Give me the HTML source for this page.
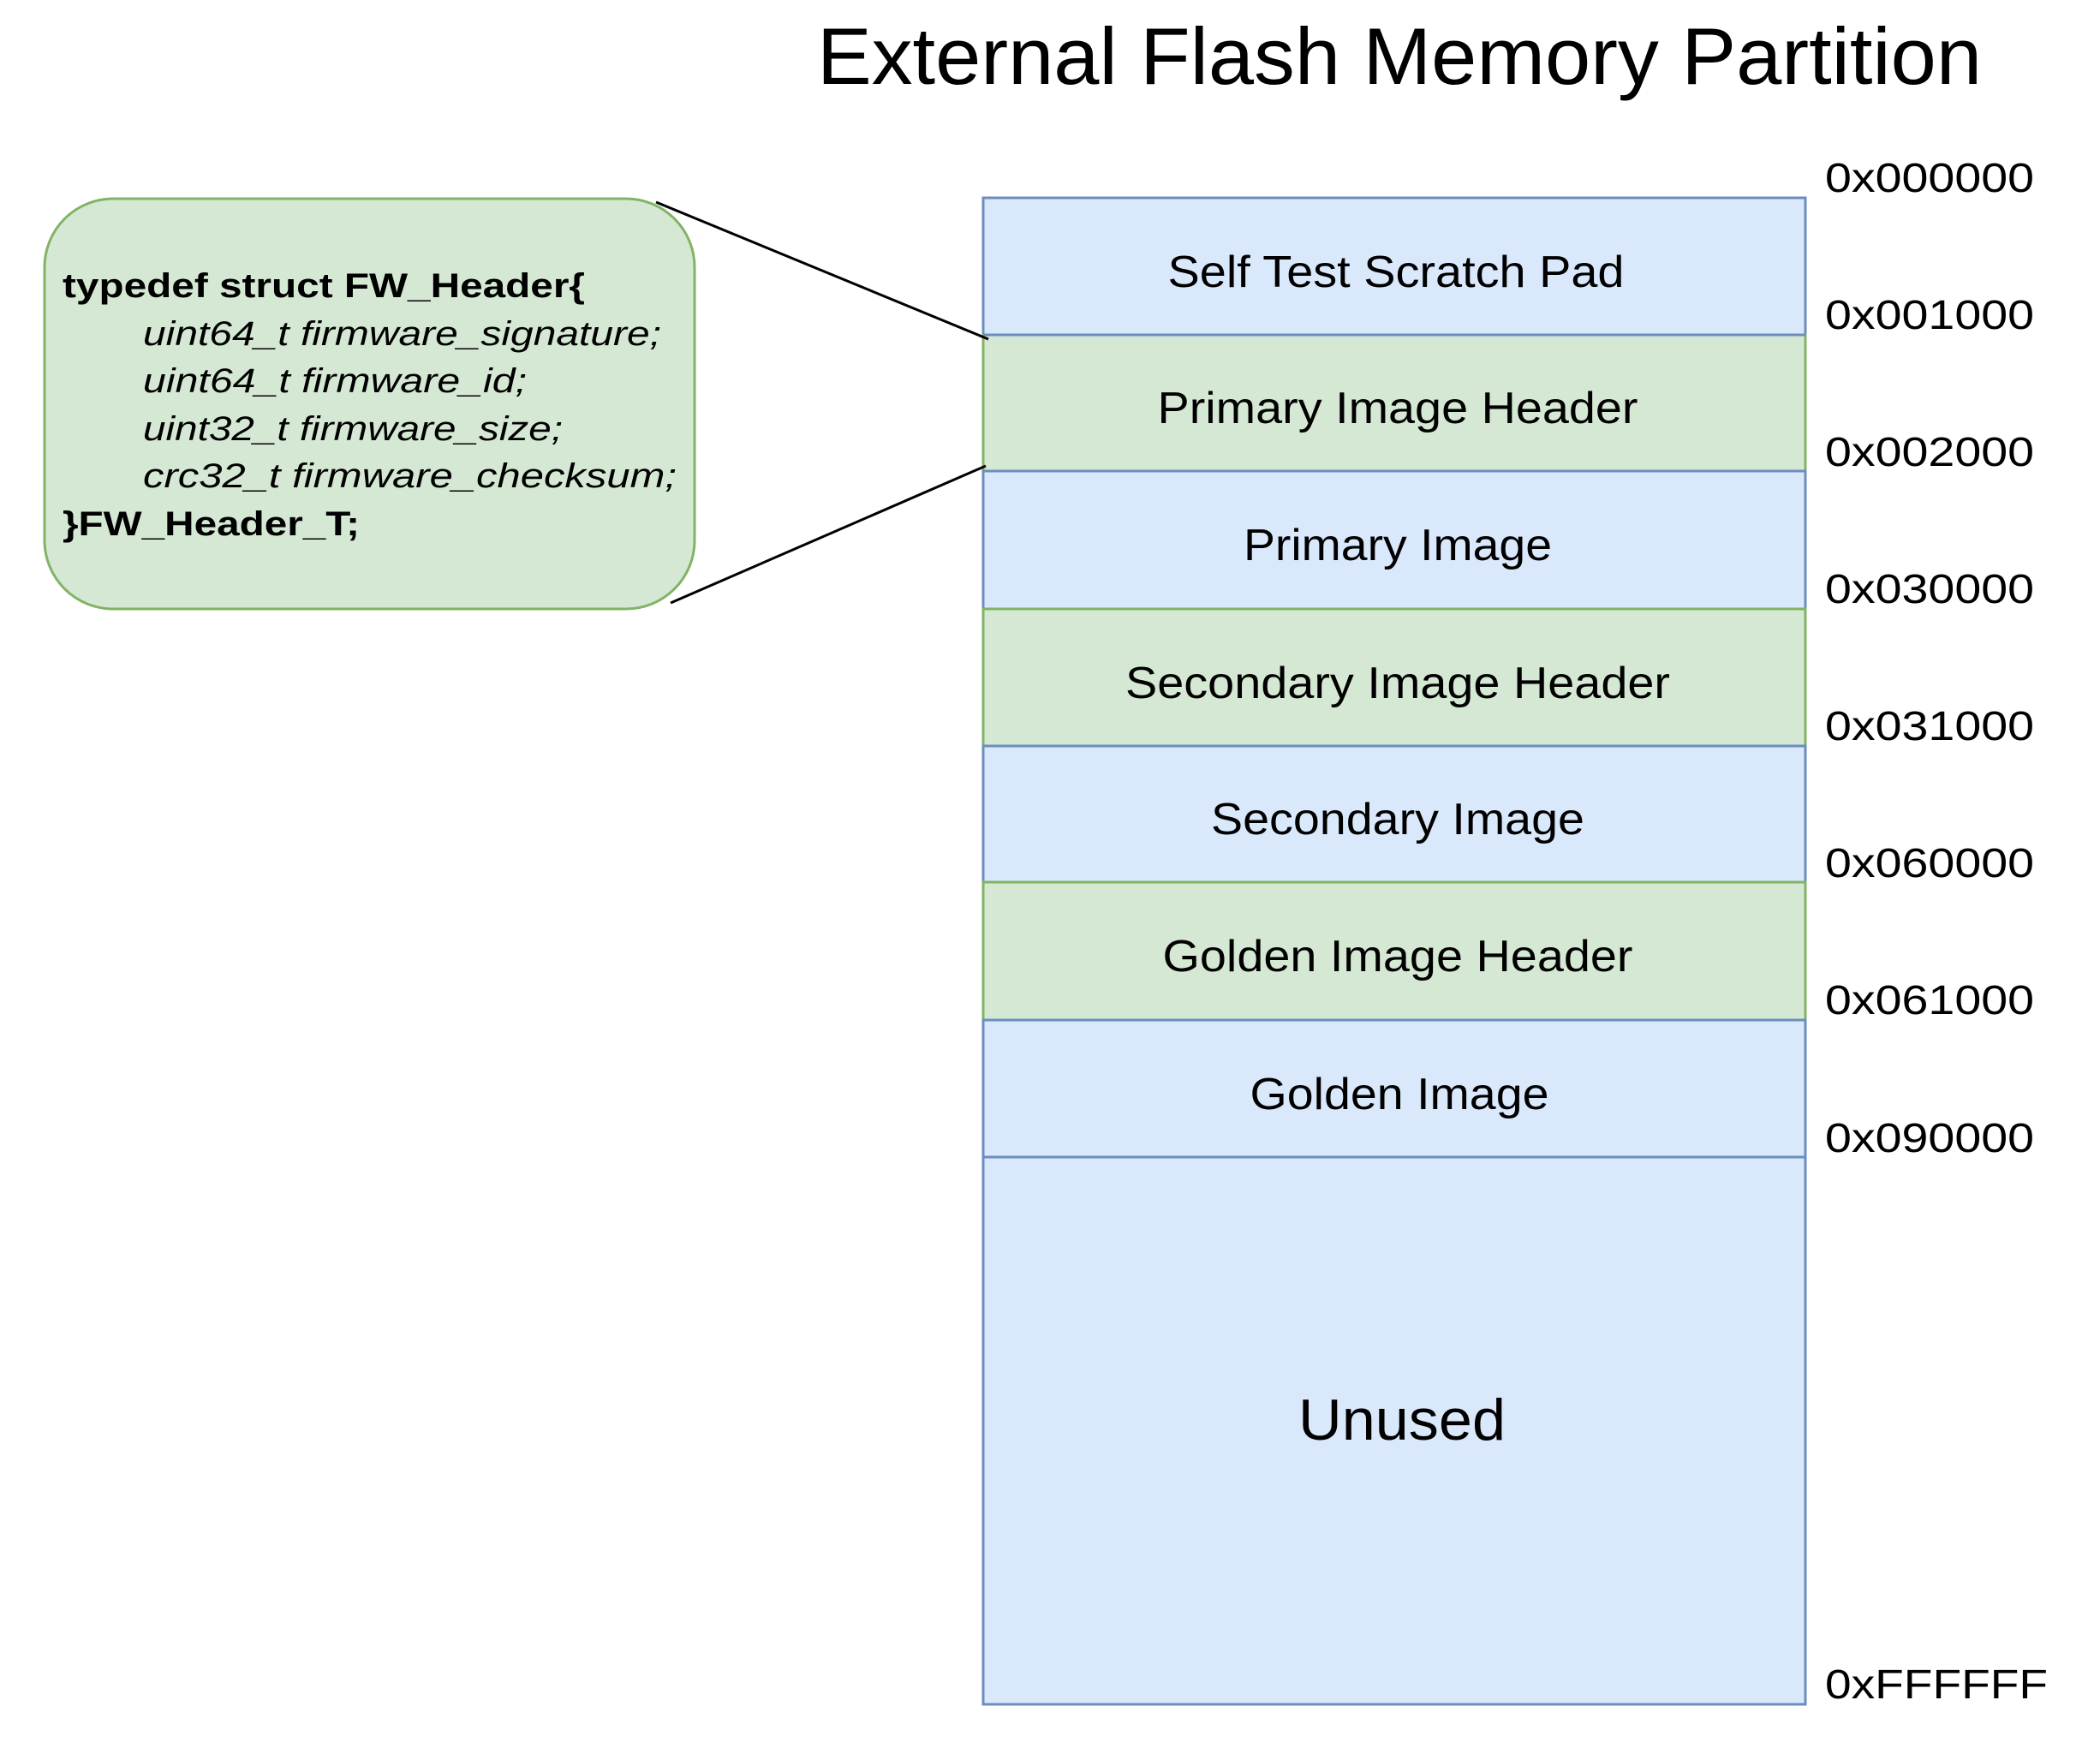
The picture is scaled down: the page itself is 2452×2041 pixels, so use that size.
<!DOCTYPE html>
<html><head><meta charset="utf-8"><style>html,body{margin:0;padding:0;background:#fff}</style></head>
<body>
<svg width="2452" height="2036" viewBox="0 0 2452 2036" xmlns="http://www.w3.org/2000/svg" font-family="Liberation Sans, sans-serif">
<text x="1634" y="98" font-size="94" text-anchor="middle" textLength="1360" lengthAdjust="spacingAndGlyphs">External Flash Memory Partition</text>
<g stroke-width="3">
<rect x="1148" y="231" width="960" height="160" fill="#dae8fc" stroke="#6c8ebf"/>
<rect x="1148" y="391" width="960" height="159" fill="#d5e8d4" stroke="#82b366"/>
<rect x="1148" y="550" width="960" height="161" fill="#dae8fc" stroke="#6c8ebf"/>
<rect x="1148" y="711" width="960" height="160" fill="#d5e8d4" stroke="#82b366"/>
<rect x="1148" y="871" width="960" height="159" fill="#dae8fc" stroke="#6c8ebf"/>
<rect x="1148" y="1030" width="960" height="161" fill="#d5e8d4" stroke="#82b366"/>
<rect x="1148" y="1191" width="960" height="160" fill="#dae8fc" stroke="#6c8ebf"/>
<rect x="1148" y="1351" width="960" height="639" fill="#dae8fc" stroke="#6c8ebf"/>
<line x1="1148" y1="391" x2="2108" y2="391" stroke="#6c8ebf"/>
<line x1="1148" y1="550" x2="2108" y2="550" stroke="#6c8ebf"/>
<line x1="1148" y1="871" x2="2108" y2="871" stroke="#6c8ebf"/>
<line x1="1148" y1="1191" x2="2108" y2="1191" stroke="#6c8ebf"/>
</g>
<g font-size="52" text-anchor="middle" lengthAdjust="spacingAndGlyphs">
<text x="1630" y="335" textLength="533" lengthAdjust="spacingAndGlyphs">Self Test Scratch Pad</text>
<text x="1632" y="494" textLength="561" lengthAdjust="spacingAndGlyphs">Primary Image Header</text>
<text x="1632" y="654" textLength="360" lengthAdjust="spacingAndGlyphs">Primary Image</text>
<text x="1632" y="815" textLength="636" lengthAdjust="spacingAndGlyphs">Secondary Image Header</text>
<text x="1632" y="974" textLength="436" lengthAdjust="spacingAndGlyphs">Secondary Image</text>
<text x="1632" y="1134" textLength="549" lengthAdjust="spacingAndGlyphs">Golden Image Header</text>
<text x="1634" y="1295" textLength="349" lengthAdjust="spacingAndGlyphs">Golden Image</text>
<text x="1637" y="1681" font-size="68" textLength="242" lengthAdjust="spacingAndGlyphs">Unused</text>
</g>
<g font-size="48">
<text x="2131" y="224" textLength="244" lengthAdjust="spacingAndGlyphs">0x000000</text>
<text x="2131" y="384" textLength="244" lengthAdjust="spacingAndGlyphs">0x001000</text>
<text x="2131" y="544" textLength="244" lengthAdjust="spacingAndGlyphs">0x002000</text>
<text x="2131" y="704" textLength="244" lengthAdjust="spacingAndGlyphs">0x030000</text>
<text x="2131" y="864" textLength="244" lengthAdjust="spacingAndGlyphs">0x031000</text>
<text x="2131" y="1024" textLength="244" lengthAdjust="spacingAndGlyphs">0x060000</text>
<text x="2131" y="1184" textLength="244" lengthAdjust="spacingAndGlyphs">0x061000</text>
<text x="2131" y="1345" textLength="244" lengthAdjust="spacingAndGlyphs">0x090000</text>
<text x="2131" y="1983" textLength="260" lengthAdjust="spacingAndGlyphs">0xFFFFFF</text>
</g>
<rect x="52" y="232" width="759" height="479" rx="80" ry="80" fill="#d5e8d4" stroke="#82b366" stroke-width="3"/>
<g font-size="40">
<text x="73" y="347" font-weight="bold" textLength="610" lengthAdjust="spacingAndGlyphs">typedef struct FW_Header{</text>
<text x="167" y="403" font-style="italic" textLength="605" lengthAdjust="spacingAndGlyphs">uint64_t firmware_signature;</text>
<text x="167" y="458" font-style="italic" textLength="448" lengthAdjust="spacingAndGlyphs">uint64_t firmware_id;</text>
<text x="167" y="514" font-style="italic" textLength="490" lengthAdjust="spacingAndGlyphs">uint32_t firmware_size;</text>
<text x="167" y="569" font-style="italic" textLength="623" lengthAdjust="spacingAndGlyphs">crc32_t  firmware_checksum;</text>
<text x="73" y="625" font-weight="bold" textLength="347" lengthAdjust="spacingAndGlyphs">}FW_Header_T;</text>
</g>
<line x1="766" y1="236" x2="1154" y2="396" stroke="#000" stroke-width="3"/>
<line x1="783" y1="704" x2="1151" y2="544" stroke="#000" stroke-width="3"/>
</svg>
</body></html>
